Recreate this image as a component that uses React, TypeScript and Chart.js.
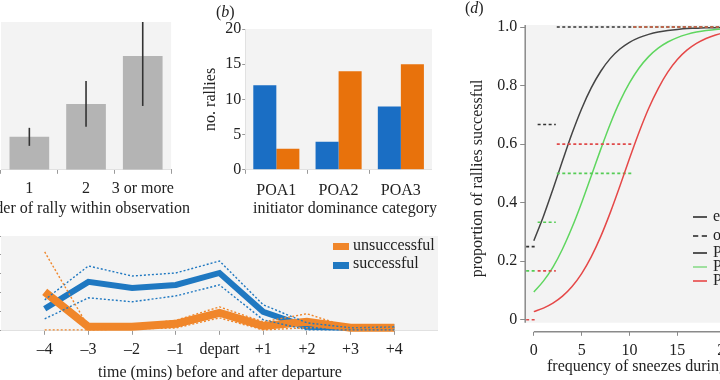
import React, { useEffect, useRef } from "react";
import { Chart, registerables } from "chart.js";

Chart.register(...registerables);

const SERIF = "'Liberation Serif', 'Times New Roman', Times, serif";
const TEXT = "#222222";
const AXIS = "#9a9a9a";
const PLOT_BG = "#f3f3f3";
const BAR_GRAY = "#b4b4b4";
const BLUE_BAR = "#1a6ec4";
const ORANGE_BAR = "#e8720c";
const BLUE_LINE = "#1f78c1";
const ORANGE_LINE = "#f0862a";
const DARK_FIT = "#444444";
const GREEN_FIT = "#5fd65f";
const RED_FIT = "#e54848";

Chart.defaults.font.family = SERIF;
Chart.defaults.font.size = 16;
Chart.defaults.color = TEXT;

// ---------- (a) ----------
const rallyOrderLabels = ["1", "2", "3 or more"];
const rallySuccess = [0.223, 0.446, 0.77];
const rallyErrLow = [0.162, 0.291, 0.432];
const rallyErrHigh = [0.284, 0.601, 1.0];

// ---------- (b) ----------
const dominanceCategories = ["POA1", "POA2", "POA3"];
const ralliesBlue = [12, 4, 9];
const ralliesOrange = [3, 14, 15];
const ralliesTicks = [0, 5, 10, 15, 20];

// ---------- (c) ----------
const timePoints = [-4, -3, -2, -1, 0, 1, 2, 3, 4];
const timeTickLabels = ["\u20134", "\u20133", "\u20132", "\u20131", "depart", "+1", "+2", "+3", "+4"];
const successMean = [1.16, 2.58, 2.26, 2.42, 3.05, 1.0, 0.21, 0.16, 0.2];
const successUpper = [1.63, 3.42, 2.89, 3.05, 3.68, 1.37, 0.42, 0.16, 0.2];
const successLower = [0.63, 1.74, 1.53, 1.84, 2.42, 0.58, 0.05, 0.05, 0.05];
const unsuccessMean = [2.05, 0.21, 0.21, 0.37, 0.95, 0.26, 0.47, 0.16, 0.16];
const unsuccessUpper = [4.16, 0.2, 0.3, 0.55, 1.26, 0.47, 0.9, 0.16, 0.16];
const unsuccessLower = [0.05, 0.05, 0.1, 0.15, 0.68, 0.05, 0.16, 0.16, 0.16];
const countTicks = [0, 1, 2, 3, 4, 5];

// ---------- (d) ----------
const sneezeX = [0, 1, 2, 3, 4, 5, 6, 7, 8, 9, 10, 11, 12, 13, 14, 15, 16, 17, 18, 19, 20, 21, 22];
const poa1Fit = [0.27, 0.353, 0.446, 0.543, 0.637, 0.721, 0.792, 0.849, 0.893, 0.925, 0.948, 0.964, 0.975, 0.983, 0.988, 0.992, 0.995, 0.996, 0.998, 0.998, 0.999, 0.999, 0.999];
const poa2Fit = [0.095, 0.132, 0.18, 0.242, 0.316, 0.4, 0.491, 0.583, 0.67, 0.746, 0.809, 0.86, 0.899, 0.928, 0.949, 0.964, 0.975, 0.983, 0.988, 0.992, 0.994, 0.996, 0.997];
const poa3Fit = [0.028, 0.04, 0.057, 0.081, 0.114, 0.158, 0.215, 0.285, 0.367, 0.457, 0.551, 0.641, 0.722, 0.79, 0.846, 0.889, 0.921, 0.944, 0.961, 0.973, 0.981, 0.987, 0.991];
const binStart = [-0.8, 0.4, 2.4, 10.4];
const binEnd = [0.3, 2.3, 10.4, 26];
const poa1Observed = [0.25, 0.667, 1.0, 1.0];
const poa2Observed = [0.167, 0.333, 0.5, 1.0];
const poa3Observed = [0, 0.167, 0.6, 1.0];
const proportionTicks = [0, 0.2, 0.4, 0.6, 0.8, 1.0];
const sneezeTicks = [0, 5, 10, 15, 20, 25];

// ---------- helpers ----------
const font16 = { family: SERIF, size: 16 };

function bgPlugin(bottomValue?: number) {
  return {
    id: "plotBg",
    beforeDatasetsDraw(chart: any) {
      const { ctx, chartArea } = chart;
      if (!chartArea) return;
      let bottom = chartArea.bottom;
      if (bottomValue !== undefined) bottom = chart.scales.y.getPixelForValue(bottomValue);
      ctx.save();
      ctx.fillStyle = PLOT_BG;
      ctx.fillRect(chartArea.left, chartArea.top, chartArea.right - chartArea.left, bottom - chartArea.top);
      ctx.restore();
    },
  };
}

const errorBarPlugin = {
  id: "errorBars",
  afterDatasetsDraw(chart: any) {
    const meta = chart.getDatasetMeta(0);
    const y = chart.scales.y;
    const ctx = chart.ctx;
    ctx.save();
    ctx.strokeStyle = "#333333";
    ctx.lineWidth = 1.6;
    meta.data.forEach((el: any, i: number) => {
      ctx.beginPath();
      ctx.moveTo(el.x, y.getPixelForValue(rallyErrLow[i]));
      ctx.lineTo(el.x, y.getPixelForValue(rallyErrHigh[i]));
      ctx.stroke();
    });
    ctx.restore();
  },
};

const rAxesPlugin = {
  id: "rAxes",
  afterDraw(chart: any) {
    const { ctx, chartArea, scales } = chart;
    ctx.save();
    ctx.strokeStyle = "#8a8a8a";
    ctx.lineWidth = 1.5;
    ctx.beginPath();
    ctx.moveTo(chartArea.left, scales.y.getPixelForValue(1.007));
    ctx.lineTo(chartArea.left, scales.y.getPixelForValue(-0.01));
    ctx.moveTo(scales.x.getPixelForValue(0), chartArea.bottom);
    ctx.lineTo(scales.x.getPixelForValue(26), chartArea.bottom);
    ctx.stroke();
    ctx.restore();
  },
};

function setTicks(values: number[]) {
  return (axis: any) => {
    axis.ticks = values.map((v) => ({ value: v }));
  };
}

// ---------- configs ----------
function configA(): any {
  return {
    type: "bar",
    data: {
      labels: rallyOrderLabels,
      datasets: [
        {
          data: rallySuccess,
          backgroundColor: BAR_GRAY,
          categoryPercentage: 0.7,
          barPercentage: 1,
        },
      ],
    },
    plugins: [bgPlugin(), errorBarPlugin],
    options: {
      responsive: false,
      animation: false,
      layout: { padding: { top: 22, left: 1, right: 7, bottom: 23 } },
      plugins: { legend: { display: false }, tooltip: { enabled: false } },
      scales: {
        x: {
          grid: { display: true, drawOnChartArea: false, tickLength: 4, color: AXIS, offset: true },
          border: { color: AXIS },
          ticks: { color: TEXT, font: font16, padding: 5, maxRotation: 0, autoSkip: false },
        },
        y: {
          min: 0,
          max: 1,
          ticks: { display: false },
          grid: { display: false, drawTicks: false },
          border: { display: true, color: AXIS },
        },
      },
    },
  };
}

function configB(): any {
  return {
    type: "bar",
    data: {
      labels: dominanceCategories,
      datasets: [
        { data: ralliesBlue, backgroundColor: BLUE_BAR, categoryPercentage: 0.74, barPercentage: 1 },
        { data: ralliesOrange, backgroundColor: ORANGE_BAR, categoryPercentage: 0.74, barPercentage: 1 },
      ],
    },
    plugins: [bgPlugin()],
    options: {
      responsive: false,
      animation: false,
      layout: { padding: { top: 29, left: 0, right: 0, bottom: 19 } },
      plugins: { legend: { display: false }, tooltip: { enabled: false } },
      scales: {
        x: {
          grid: { display: true, drawOnChartArea: false, tickLength: 4, color: AXIS, offset: true },
          border: { color: AXIS },
          ticks: { color: TEXT, font: font16, padding: 7, maxRotation: 0, autoSkip: false },
        },
        y: {
          min: 0,
          max: 20,
          afterBuildTicks: setTicks(ralliesTicks),
          ticks: { color: TEXT, font: font16, padding: 1 },
          grid: { display: true, drawOnChartArea: false, tickLength: 3, color: AXIS },
          border: { color: AXIS },
          title: {
            display: true,
            text: "no. rallies",
            color: TEXT,
            font: font16,
            padding: { top: 4, bottom: 4 },
          },
        },
      },
    },
  };
}

function configC(): any {
  const pts = (ys: number[]) => timePoints.map((x, i) => ({ x, y: ys[i] }));
  const dotted = (ys: number[], color: string) => ({
    data: pts(ys),
    borderColor: color,
    borderWidth: 1.4,
    borderDash: [2, 2],
    pointRadius: 0,
    order: 0,
  });
  return {
    type: "line",
    data: {
      datasets: [
        dotted(unsuccessUpper, ORANGE_LINE),
        dotted(unsuccessLower, ORANGE_LINE),
        dotted(successUpper, BLUE_LINE),
        dotted(successLower, BLUE_LINE),
        { data: pts(unsuccessMean), borderColor: ORANGE_LINE, borderWidth: 8, pointRadius: 0, order: 1 },
        { data: pts(successMean), borderColor: BLUE_LINE, borderWidth: 6, pointRadius: 0, order: 2 },
      ],
    },
    plugins: [bgPlugin()],
    options: {
      responsive: false,
      animation: false,
      clip: false,
      layout: { padding: { top: 10, left: 0, right: 0, bottom: 20 } },
      plugins: { legend: { display: false }, tooltip: { enabled: false } },
      scales: {
        x: {
          type: "linear",
          min: -5,
          max: 5,
          afterBuildTicks: setTicks(timePoints),
          ticks: {
            color: TEXT,
            font: font16,
            padding: 5,
            maxRotation: 0,
            autoSkip: false,
            callback: (v: number) => {
              const i = timePoints.indexOf(v);
              return i >= 0 ? timeTickLabels[i] : "";
            },
          },
          grid: { display: true, drawOnChartArea: false, tickLength: 4, color: AXIS },
          border: { color: AXIS },
        },
        y: {
          min: 0,
          max: 5,
          afterBuildTicks: setTicks(countTicks),
          ticks: { display: false },
          grid: { display: true, drawOnChartArea: false, tickLength: 3, color: AXIS },
          border: { color: AXIS },
        },
      },
    },
  };
}

function configD(): any {
  const fit = (ys: number[], color: string, order: number) => ({
    data: sneezeX.map((x, i) => ({ x, y: ys[i] })),
    borderColor: color,
    borderWidth: 1.5,
    pointRadius: 0,
    cubicInterpolationMode: "monotone",
    order,
  });
  const observed = (ys: number[], color: string, order: number) => {
    const data: any[] = [];
    ys.forEach((v, i) => {
      data.push({ x: binStart[i], y: v });
      data.push({ x: binEnd[i], y: v });
      data.push({ x: binEnd[i] + 0.01, y: null });
    });
    return {
      data,
      borderColor: color,
      borderWidth: 1.6,
      borderDash: [3, 2.5],
      pointRadius: 0,
      spanGaps: false,
      order,
    };
  };
  return {
    type: "line",
    data: {
      datasets: [
        fit(poa1Fit, DARK_FIT, 5),
        fit(poa2Fit, GREEN_FIT, 3),
        fit(poa3Fit, RED_FIT, 1),
        observed(poa1Observed, "#333333", 4),
        observed(poa2Observed, "#55cc55", 2),
        observed(poa3Observed, "#e04a4a", 0),
      ],
    },
    plugins: [bgPlugin(-0.01), rAxesPlugin],
    options: {
      responsive: false,
      animation: false,
      layout: { padding: { top: 25, left: 0, right: 0, bottom: 17 } },
      plugins: { legend: { display: false }, tooltip: { enabled: false } },
      scales: {
        x: {
          type: "linear",
          min: -0.9,
          max: 26.1,
          afterBuildTicks: setTicks(sneezeTicks),
          ticks: { color: TEXT, font: font16, padding: 5, maxRotation: 0, autoSkip: false },
          grid: { display: true, drawOnChartArea: false, tickLength: 4, color: "#8a8a8a" },
          border: { display: false },
        },
        y: {
          min: -0.041,
          max: 1.007,
          afterBuildTicks: setTicks(proportionTicks),
          ticks: {
            color: TEXT,
            font: font16,
            padding: 3,
            callback: (v: number) => (v === 0 ? "0" : v.toFixed(1)),
          },
          grid: { display: true, drawOnChartArea: false, tickLength: 5, color: "#8a8a8a" },
          border: { display: false },
          title: {
            display: true,
            text: "proportion of rallies successful",
            color: TEXT,
            font: font16,
            padding: { top: 0, bottom: 7 },
          },
        },
      },
    },
  };
}

function ChartCanvas(props: { make: () => any; left: number; top: number; width: number; height: number }) {
  const ref = useRef<HTMLCanvasElement>(null);
  useEffect(() => {
    const chart = new Chart(ref.current as HTMLCanvasElement, props.make());
    return () => chart.destroy();
  }, []);
  return (
    <canvas
      ref={ref}
      width={props.width}
      height={props.height}
      style={{ position: "absolute", left: props.left, top: props.top, width: props.width, height: props.height }}
    />
  );
}

const textStyle: React.CSSProperties = {
  position: "absolute",
  fontFamily: SERIF,
  fontSize: 16,
  lineHeight: "18px",
  color: TEXT,
  whiteSpace: "nowrap",
};

const legendD = [
  { label: "estimated", color: "#555555", dashed: false, y: 217 },
  { label: "observed", color: "#555555", dashed: true, y: 236 },
  { label: "POA1", color: "#555555", dashed: false, y: 253 },
  { label: "POA2", color: "#9fe09f", dashed: false, y: 267 },
  { label: "POA3", color: "#ea6a6a", dashed: false, y: 281 },
];

export default function App() {
  return (
    <div
      style={{
        position: "fixed",
        left: 0,
        top: 0,
        width: 720,
        height: 380,
        overflow: "hidden",
        background: "#ffffff",
      }}
    >
      <ChartCanvas make={configA} left={0} top={0} width={180} height={226} />
      <ChartCanvas make={configB} left={197} top={0} width={235} height={226} />
      <ChartCanvas make={configC} left={-2} top={226} width={440} height={158} />
      <ChartCanvas make={configD} left={468} top={0} width={318} height={382} />

      <div style={{ ...textStyle, left: 86 - 150, width: 300, textAlign: "center", top: 199 }}>
        order of rally within observation
      </div>
      <div style={{ ...textStyle, left: 345 - 150, width: 300, textAlign: "center", top: 199 }}>
        initiator dominance category
      </div>
      <div style={{ ...textStyle, left: 220 - 200, width: 400, textAlign: "center", top: 363 }}>
        time (mins) before and after departure
      </div>
      <div style={{ ...textStyle, left: 547, top: 357 }}>frequency of sneezes during rally</div>

      <div style={{ ...textStyle, left: 216, top: 3 }}>
        (<i>b</i>)
      </div>
      <div style={{ ...textStyle, left: 465, top: -1 }}>
        (<i>d</i>)
      </div>

      <div style={{ position: "absolute", left: 333, top: 243, width: 16, height: 7, background: ORANGE_LINE }} />
      <div style={{ ...textStyle, left: 353, top: 236 }}>unsuccessful</div>
      <div style={{ position: "absolute", left: 333, top: 262, width: 16, height: 7, background: BLUE_LINE }} />
      <div style={{ ...textStyle, left: 353, top: 254 }}>successful</div>

      {legendD.map((item) => (
        <React.Fragment key={item.label}>
          <div
            style={{
              position: "absolute",
              left: 693,
              top: item.y - 1,
              width: 14,
              height: 0,
              borderTop: `2px ${item.dashed ? "dashed" : "solid"} ${item.color}`,
            }}
          />
          <div style={{ ...textStyle, left: 713, top: item.y - 10 }}>{item.label}</div>
        </React.Fragment>
      ))}
    </div>
  );
}
